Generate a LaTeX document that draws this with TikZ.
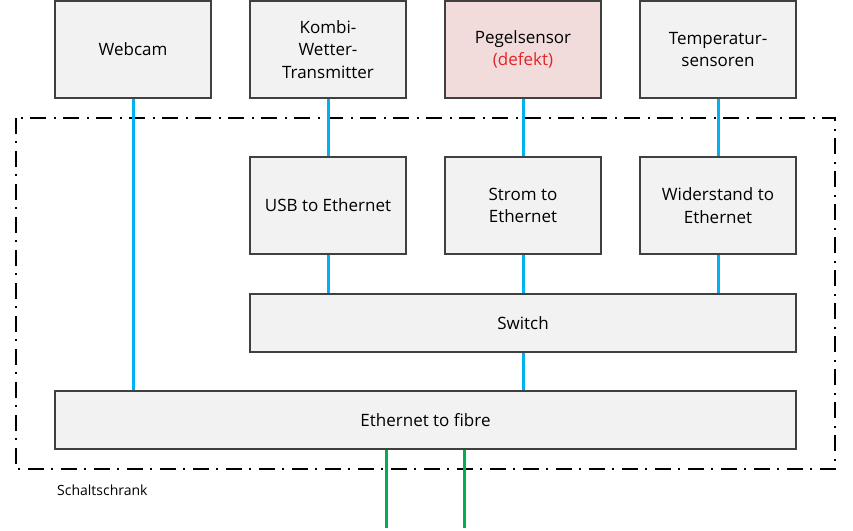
\documentclass[tikz,border=0pt]{standalone}
\usepackage{fontspec}
\setmainfont{Open Sans}
\definecolor{boxfill}{HTML}{F2F2F2}
\definecolor{pinkfill}{HTML}{F2DCDB}
\definecolor{boxline}{HTML}{404040}
\definecolor{cable}{HTML}{00B0F0}
\definecolor{fibre}{HTML}{00B050}
\definecolor{defekt}{HTML}{E0252A}
\begin{document}
\begin{tikzpicture}[x=1pt,y=-1pt,
  unit/.style={draw=boxline,fill=boxfill,line width=1.2pt,align=center,inner sep=0pt,
    font=\fontsize{17}{22.5}\selectfont},
  blue cable/.style={draw=cable,line width=3pt},
  green cable/.style={draw=fibre,line width=3pt}]
\useasboundingbox (0,0) rectangle (853,530);
% cabinet
\draw[line width=2pt,dash pattern=on 16pt off 7pt on 2pt off 8pt] (16,118) rectangle (835,469);
\node[anchor=west,font=\fontsize{14}{16}\selectfont,inner sep=0pt] (label) at (57,490) {Schaltschrank};
% boxes
\node[unit,minimum width=156pt,minimum height=97pt] (webcam) at (133,49.5) {Webcam};
\node[unit,minimum width=156pt,minimum height=97pt] (kombi) at (328,49.5) {Kombi-\\Wetter-\\Transmitter};
\node[unit,fill=pinkfill,minimum width=156pt,minimum height=97pt] (pegel) at (523,49.5) {Pegelsensor\\\textcolor{defekt}{(defekt)}};
\node[unit,minimum width=156pt,minimum height=97pt] (temp) at (718,49.5) {Temperatur-\\sensoren};
\node[unit,minimum width=156pt,minimum height=97pt] (usb) at (328,205.5) {USB to Ethernet};
\node[unit,minimum width=156pt,minimum height=97pt] (strom) at (523,205.5) {Strom to\\Ethernet};
\node[unit,minimum width=156pt,minimum height=97pt] (wid) at (718,205.5) {Widerstand to\\Ethernet};
\node[unit,minimum width=546pt,minimum height=58pt] (switch) at (523,323) {Switch};
\node[unit,minimum width=741pt,minimum height=58pt] (eth) at (425.5,420) {Ethernet to fibre};
% cables
\draw[blue cable] (webcam.south) -- (webcam.south |- eth.north);
\draw[blue cable] (kombi.south) -- (usb.north);
\draw[blue cable] (pegel.south) -- (strom.north);
\draw[blue cable] (temp.south) -- (wid.north);
\draw[blue cable] (usb.south) -- (usb.south |- switch.north);
\draw[blue cable] (strom.south) -- (strom.south |- switch.north);
\draw[blue cable] (wid.south) -- (wid.south |- switch.north);
\draw[blue cable] (switch.south) -- (switch.south |- eth.north);
\coordinate (f1) at (386,528);
\coordinate (f2) at (464,528);
\draw[green cable] (f1 |- eth.south) -- (f1);
\draw[green cable] (f2 |- eth.south) -- (f2);
\end{tikzpicture}
\end{document}
